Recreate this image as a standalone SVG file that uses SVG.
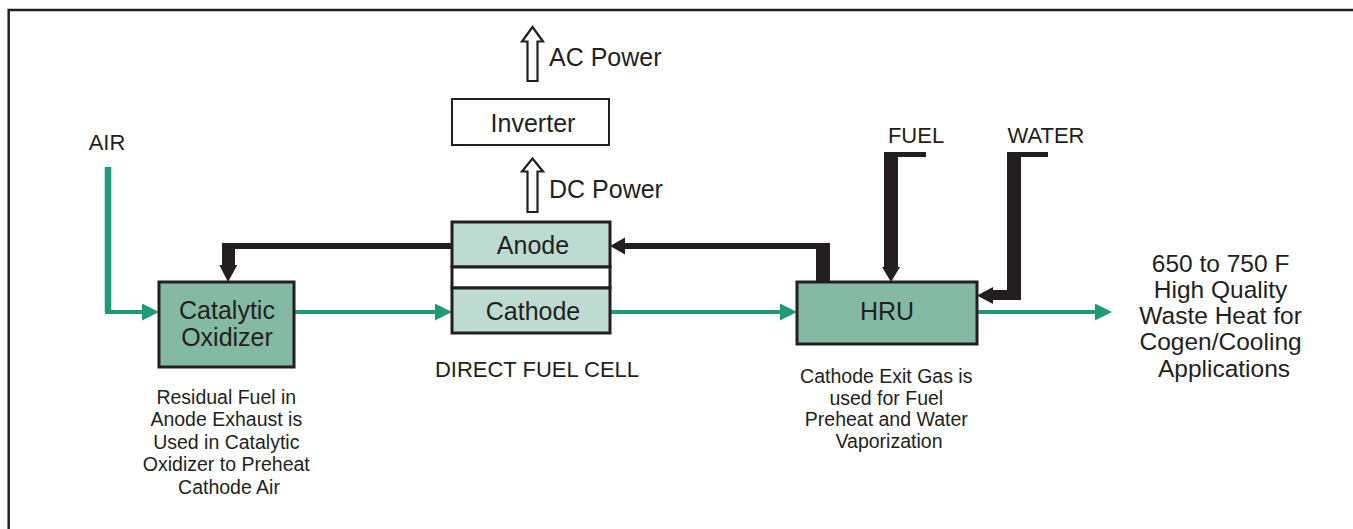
<svg xmlns="http://www.w3.org/2000/svg" width="1353" height="529" viewBox="0 0 1353 529">
<style>
  text { font-family: "Liberation Sans", Arial, sans-serif; fill: #231f20; text-anchor: middle; }
  .lbl { font-size: 25px; }
  .cap { font-size: 22px; }
  .note { font-size: 19.5px; }
  .big { font-size: 24.5px; }
  .box { stroke: #231f20; stroke-width: 3; }
  .dark { fill: #84b9a4; }
  .light { fill: #bddbd0; }
  .green { fill: none; stroke: #1f9a78; stroke-width: 4; }
  .blk { fill: #231f20; stroke: none; }
  .hollow { fill: #ffffff; stroke: #231f20; stroke-width: 2.2; stroke-linejoin: miter; }
</style>
<defs>
  <marker id="ga" viewBox="0 0 17 17" refX="7" refY="8.5" markerWidth="17" markerHeight="17" markerUnits="userSpaceOnUse" orient="auto">
    <path d="M0,0 L17,8.5 L0,17 z" fill="#1f9a78"/>
  </marker>
</defs>
<rect width="1353" height="529" fill="#ffffff"/>
<path d="M8.7 529 V10 H1353" fill="none" stroke="#231f20" stroke-width="2.5"/>

<g id="connectors">
  <path d="M108 167 V312" fill="none" stroke="#1f9a78" stroke-width="6.5"/>
  <path class="green" d="M105 312 H149" marker-end="url(#ga)"/>
  <path class="green" d="M294 312 H442" marker-end="url(#ga)"/>
  <path class="green" d="M610 312 H787" marker-end="url(#ga)"/>
  <path class="green" d="M977 312 H1102" marker-end="url(#ga)"/>
  <polygon class="blk" points="452,243 222,243 222,265 219.3,265 228,282 237.3,265 235,265 235,249 452,249"/>
  <polygon class="blk" points="816,282 816,249 625,249 625,254.5 610,246 625,237.5 625,243 830,243 830,282"/>
  <polygon class="blk" points="884,152 926,152 926,157 898,157 898,267 900,267 891,282 882,267 884,267"/>
  <polygon class="blk" points="1007,152 1048,152 1048,157 1021,157 1021,300 993,300 993,304 977,295.5 993,287 993,290 1007,290"/>
  <polygon class="hollow" points="527.5,212 527.5,171.5 522,171.5 532.5,158.5 543,171.5 537.5,171.5 537.5,212"/>
  <polygon class="hollow" points="527.5,81 527.5,41.5 522,41.5 532.5,27 543,41.5 537.5,41.5 537.5,81"/>
</g>

<g id="labels">
  <text class="cap" x="107" y="150">AIR</text>
  <text class="cap" x="916" y="143">FUEL</text>
  <text class="cap" x="1046" y="143">WATER</text>
  <text class="lbl" x="549" y="66" style="text-anchor:start">AC Power</text>
  <text class="lbl" x="549" y="198" style="text-anchor:start">DC Power</text>
</g>

<g id="inverter">
  <rect x="452" y="99" width="157" height="46" fill="#ffffff" stroke="#231f20" stroke-width="2"/>
  <text class="lbl" x="533" y="132">Inverter</text>
</g>

<g id="fuel-cell">
  <rect class="light box" x="452" y="222" width="158" height="45"/>
  <rect x="452" y="267" width="158" height="21" fill="#ffffff" class="box"/>
  <rect class="light box" x="452" y="288" width="158" height="45"/>
  <text class="lbl" x="533" y="254">Anode</text>
  <text class="lbl" x="533" y="320">Cathode</text>
  <text class="cap" x="537" y="377">DIRECT FUEL CELL</text>
</g>

<g id="catalytic-oxidizer">
  <rect class="dark box" x="159" y="282" width="135" height="85"/>
  <text class="lbl" x="227" y="319">Catalytic</text>
  <text class="lbl" x="227" y="346">Oxidizer</text>
  <text class="note" x="229">
    <tspan x="229" y="403.5">Residual Fuel in</tspan>
    <tspan x="229" y="426">Anode Exhaust is</tspan>
    <tspan x="229" y="448.5">Used in Catalytic</tspan>
    <tspan x="229" y="471">Oxidizer to Preheat</tspan>
    <tspan x="229" y="493.5">Cathode Air</tspan>
  </text>
</g>

<g id="hru">
  <rect class="dark box" x="797" y="282" width="180" height="62"/>
  <text class="lbl" x="887" y="320">HRU</text>
  <text class="note" x="889">
    <tspan x="889" y="383">Cathode Exit Gas is</tspan>
    <tspan x="889" y="404.5">used for Fuel</tspan>
    <tspan x="889" y="426">Preheat and Water</tspan>
    <tspan x="889" y="447.5">Vaporization</tspan>
  </text>
</g>

<g id="waste-heat">
  <text class="big" x="1224">
    <tspan x="1224" y="271.5">650 to 750 F</tspan>
    <tspan x="1224" y="297.5">High Quality</tspan>
    <tspan x="1224" y="323.5">Waste Heat for</tspan>
    <tspan x="1224" y="350">Cogen/Cooling</tspan>
    <tspan x="1224" y="376.5">Applications</tspan>
  </text>
</g>
</svg>
